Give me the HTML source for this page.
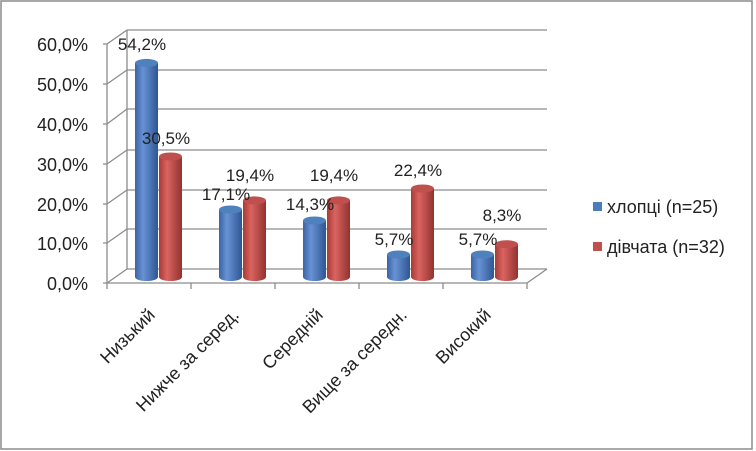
<!DOCTYPE html>
<html><head><meta charset="utf-8"><style>
body{margin:0;background:#fff}
svg{display:block;font-family:"Liberation Sans","DejaVu Sans",sans-serif}
</style></head><body>
<svg width="756" height="451" viewBox="0 0 756 451">
<defs>
<linearGradient id="b" x1="0" x2="1"><stop offset="0" stop-color="#3a64a8"/><stop offset="0.35" stop-color="#6792d4"/><stop offset="1" stop-color="#2f5594"/></linearGradient>
<linearGradient id="r" x1="0" x2="1"><stop offset="0" stop-color="#a83a36"/><stop offset="0.35" stop-color="#d96460"/><stop offset="1" stop-color="#923230"/></linearGradient>
</defs>
<rect x="1" y="1" width="751" height="448" fill="#fff" stroke="#8c8c8c" stroke-width="1.5"/>
<g stroke="#8c8c8c" stroke-width="1.3" fill="none">
<path d="M127 30H547M127 70H547M127 109H547M127 150H547M127 190H547M127 229H547M127 269H547"/>
<path d="M127 30V269"/>
<path d="M107 44L127 30M107 84L127 70M107 124L127 109M107 164L127 150M107 204L127 190M107 243L127 229M107 283L127 269"/>
<path d="M107 44V283M103 44H107M103 84H107M103 124H107M103 164H107M103 204H107M103 243H107M103 283H107"/>
<path d="M107 283H527L547 269"/>
<path d="M107 283V289M191 283V289M275 283V289M359 283V289M443 283V289M527 283V289"/>
</g>
<g font-size="18" fill="#222" text-anchor="end">
<text x="88" y="51">60,0%</text><text x="88" y="91">50,0%</text><text x="88" y="131">40,0%</text>
<text x="88" y="171">30,0%</text><text x="88" y="211">20,0%</text><text x="88" y="250">10,0%</text><text x="88" y="290">0,0%</text>
</g>
<g>
<path d="M135 62.9V277A11.5 4 0 0 0 158 277V62.9Z" fill="url(#b)"/><ellipse cx="146.5" cy="62.9" rx="11.5" ry="4" fill="#4f81bd"/>
<path d="M159 156.5V277A11.5 4 0 0 0 182 277V156.5Z" fill="url(#r)"/><ellipse cx="170.5" cy="156.5" rx="11.5" ry="4" fill="#c0504d"/>
<path d="M219 209.5V277A11.5 4 0 0 0 242 277V209.5Z" fill="url(#b)"/><ellipse cx="230.5" cy="209.5" rx="11.5" ry="4" fill="#4f81bd"/>
<path d="M243 200.4V277A11.5 4 0 0 0 266 277V200.4Z" fill="url(#r)"/><ellipse cx="254.5" cy="200.4" rx="11.5" ry="4" fill="#c0504d"/>
<path d="M303 220.5V277A11.5 4 0 0 0 326 277V220.5Z" fill="url(#b)"/><ellipse cx="314.5" cy="220.5" rx="11.5" ry="4" fill="#4f81bd"/>
<path d="M327 200.4V277A11.5 4 0 0 0 350 277V200.4Z" fill="url(#r)"/><ellipse cx="338.5" cy="200.4" rx="11.5" ry="4" fill="#c0504d"/>
<path d="M387 254.5V277A11.5 4 0 0 0 410 277V254.5Z" fill="url(#b)"/><ellipse cx="398.5" cy="254.5" rx="11.5" ry="4" fill="#4f81bd"/>
<path d="M411 188.5V277A11.5 4 0 0 0 434 277V188.5Z" fill="url(#r)"/><ellipse cx="422.5" cy="188.5" rx="11.5" ry="4" fill="#c0504d"/>
<path d="M471 254.5V277A11.5 4 0 0 0 494 277V254.5Z" fill="url(#b)"/><ellipse cx="482.5" cy="254.5" rx="11.5" ry="4" fill="#4f81bd"/>
<path d="M495 244.2V277A11.5 4 0 0 0 518 277V244.2Z" fill="url(#r)"/><ellipse cx="506.5" cy="244.2" rx="11.5" ry="4" fill="#c0504d"/>
</g>
<g font-size="17" fill="#222" text-anchor="middle">
<text x="142" y="50">54,2%</text><text x="166" y="144">30,5%</text>
<text x="226" y="200">17,1%</text><text x="250" y="181">19,4%</text>
<text x="310" y="210">14,3%</text><text x="334" y="181">19,4%</text>
<text x="394" y="245">5,7%</text><text x="418" y="176">22,4%</text>
<text x="478" y="245">5,7%</text><text x="502" y="221">8,3%</text>
</g>
<g font-size="18" fill="#222" text-anchor="end">
<text transform="translate(156,316) rotate(-45)">Низький</text>
<text transform="translate(240,316) rotate(-45)">Нижче за серед.</text>
<text transform="translate(324,316) rotate(-45)">Середній</text>
<text transform="translate(408,316) rotate(-45)">Вище за середн.</text>
<text transform="translate(492,316) rotate(-45)">Високий</text>
</g>
<rect x="593" y="202" width="9" height="9" fill="#4a7ebb"/>
<rect x="593" y="242" width="9" height="9" fill="#c0504d"/>
<g font-size="18" fill="#222"><text x="607" y="213">хлопці (n=25)</text><text x="607" y="253">дівчата (n=32)</text></g>
</svg>
</body></html>
